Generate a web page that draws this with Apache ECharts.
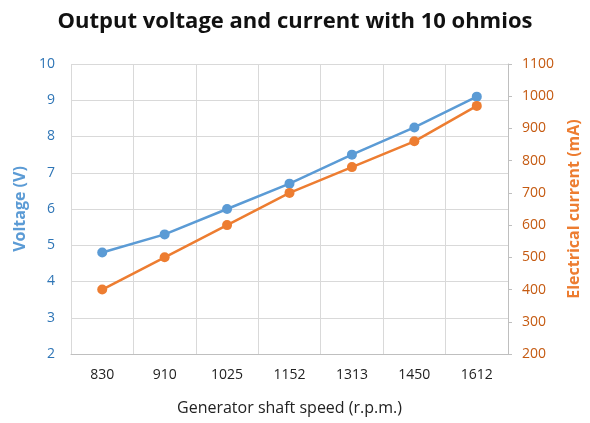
<!DOCTYPE html>
<html>
<head>
<meta charset="utf-8">
<script src="https://cdn.jsdelivr.net/npm/echarts@6/dist/echarts.min.js"></script>
<style>html,body{margin:0;padding:0;background:#fff}#c{width:590px;height:423px}</style>
</head>
<body>
<div id="c"></div>
<script>
const categories = ['830', '910', '1025', '1152', '1313', '1450', '1612'];
const voltage = [4.8, 5.3, 6.0, 6.7, 7.5, 8.25, 9.1];
const current = [400, 500, 600, 700, 780, 860, 970];

const FONT = '"Open Sans", sans-serif';
const chart = echarts.init(document.getElementById('c'), null, {renderer: 'canvas'});
chart.setOption({
  animation: false,
  backgroundColor: '#fff',
  title: {
    text: 'Output voltage and current with 10 ohmios',
    left: 'center', top: 6,
    textStyle: {fontFamily: FONT, fontWeight: 'bold', fontSize: 22, color: '#111'}
  },
  grid: {left: 71, right: 77, top: 64, bottom: 69},
  xAxis: {
    type: 'category', data: categories, boundaryGap: true,
    name: 'Generator shaft speed (r.p.m.)', nameLocation: 'middle', nameGap: 46,
    nameTextStyle: {fontFamily: FONT, fontSize: 16, color: '#222'},
    axisLine: {show: true, lineStyle: {color: '#bfbfbf', width: 1}},
    axisTick: {show: false},
    axisLabel: {fontFamily: FONT, fontSize: 14, color: '#222', margin: 14},
    splitLine: {show: true, lineStyle: {color: '#d9d9d9', width: 1}}
  },
  yAxis: [{
    type: 'value', min: 2, max: 10, interval: 1, position: 'left',
    name: 'Voltage (V)', nameLocation: 'middle', nameGap: 40, nameRotate: 90,
    nameTextStyle: {fontFamily: FONT, fontSize: 16, fontWeight: 'bold', color: '#5B9BD5'},
    axisLine: {show: false}, axisTick: {show: false},
    axisLabel: {fontFamily: FONT, fontSize: 14, color: '#2E75B6', margin: 16},
    splitLine: {show: true, lineStyle: {color: '#d9d9d9', width: 1}}
  }, {
    type: 'value', min: 200, max: 1100, interval: 100, position: 'right',
    name: 'Electrical current (mA)', nameLocation: 'middle', nameGap: 58, nameRotate: 90,
    nameTextStyle: {fontFamily: FONT, fontSize: 16, fontWeight: 'bold', color: '#ED7D31'},
    axisLine: {show: true, lineStyle: {color: '#bfbfbf', width: 1}},
    axisTick: {show: true, length: 4, lineStyle: {color: '#bfbfbf'}},
    axisLabel: {fontFamily: FONT, fontSize: 14, color: '#C55A11', margin: 14, formatter: v => String(v)},
    splitLine: {show: false}
  }],
  series: [{
    name: 'Voltage', type: 'line', yAxisIndex: 0, data: voltage,
    symbol: 'circle', symbolSize: 10, lineStyle: {color: '#5B9BD5', width: 2.5},
    itemStyle: {color: '#5B9BD5'}
  }, {
    name: 'Current', type: 'line', yAxisIndex: 1, data: current,
    symbol: 'circle', symbolSize: 10, lineStyle: {color: '#ED7D31', width: 2.5},
    itemStyle: {color: '#ED7D31'}
  }]
});
</script>
</body>
</html>
